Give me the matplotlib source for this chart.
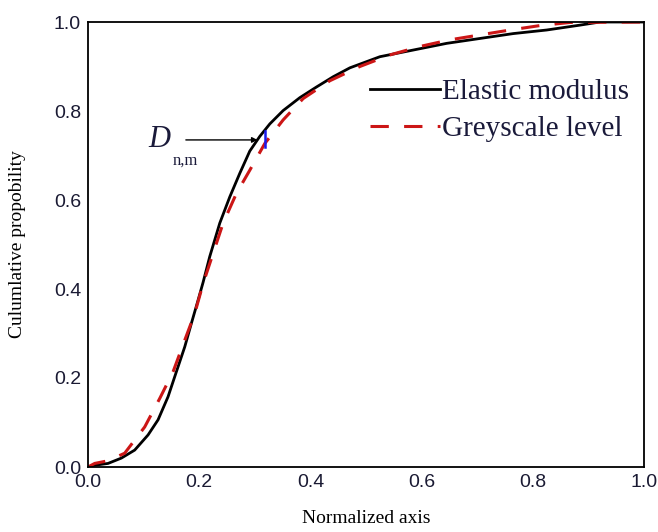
import matplotlib
matplotlib.use('Agg')
import matplotlib.pyplot as plt

x_elastic = [0.0, 0.012, 0.036, 0.06, 0.084, 0.108, 0.126, 0.144, 0.156, 0.174,
             0.186, 0.198, 0.207, 0.219, 0.237, 0.255, 0.273, 0.291, 0.309, 0.327,
             0.351, 0.381, 0.411, 0.441, 0.471, 0.525, 0.585, 0.645, 0.705, 0.765,
             0.825, 0.885, 0.921, 1.0]
y_elastic = [0.0, 0.004, 0.008, 0.02, 0.038, 0.072, 0.106, 0.158, 0.203, 0.27,
             0.323, 0.375, 0.415, 0.473, 0.548, 0.607, 0.66, 0.71, 0.743, 0.771,
             0.801, 0.83, 0.854, 0.877, 0.897, 0.922, 0.937, 0.952, 0.963, 0.974,
             0.982, 0.993, 1.0, 1.0]

x_grey = [0.0, 0.012, 0.036, 0.066, 0.102, 0.129, 0.153, 0.174, 0.192, 0.207,
          0.225, 0.243, 0.267, 0.291, 0.318, 0.351, 0.387, 0.435, 0.489, 0.543,
          0.597, 0.651, 0.705, 0.759, 0.813, 0.867, 1.0]
y_grey = [0.0, 0.008, 0.014, 0.031, 0.09, 0.154, 0.214, 0.285, 0.345, 0.412,
          0.48, 0.548, 0.615, 0.667, 0.727, 0.78, 0.828, 0.868, 0.9, 0.926,
          0.945, 0.96, 0.971, 0.982, 0.992, 0.999, 1.0]

ticks = [0.0, 0.2, 0.4, 0.6, 0.8, 1.0]
tick_labels = ['0.0', '0.2', '0.4', '0.6', '0.8', '1.0']

fig = plt.figure(figsize=(6.58, 5.32), dpi=100)
ax = fig.add_axes([88/658, 65/532, 556/658, 445/532])

ax.plot(x_elastic, y_elastic, color='black', lw=2.0, label='Elastic modulus')
ax.plot(x_grey, y_grey, color='#cc1616', lw=2.2, dashes=(6, 5), label='Greyscale level')

# KS distance marker
ax.plot([0.318, 0.318], [0.718, 0.755], color='#1a1aee', lw=1.8)
ax.annotate('', xy=(0.305, 0.735), xytext=(0.176, 0.735),
            arrowprops=dict(arrowstyle='-|>', color='black', lw=1.0,
                            mutation_scale=8, shrinkA=0, shrinkB=0))
ax.text(0.108, 0.735, 'D', fontsize=22, family='Liberation Serif', style='italic',
        color='#1a1a3a', ha='left', va='center')
ax.text(0.152, 0.688, 'n,m', fontsize=12, family='Liberation Serif',
        color='#1a1a3a', ha='left', va='center')

ax.set_xlim(0, 1)
ax.set_ylim(0, 1)
ax.set_xticks(ticks)
ax.set_xticklabels(tick_labels)
ax.set_yticks(ticks)
ax.set_yticklabels(tick_labels)
ax.tick_params(length=0, pad=5, labelsize=14, labelcolor='#1a1a33')
for lab in ax.get_xticklabels() + ax.get_yticklabels():
    lab.set_family('Liberation Sans')
for sp in ax.spines.values():
    sp.set_linewidth(1.3)

ax.set_xlabel('Normalized axis', fontsize=14, family='Liberation Serif', labelpad=14)
ax.set_ylabel('Culumlative propobility', fontsize=14, family='Liberation Serif', labelpad=20)

leg = ax.legend(loc='upper right', bbox_to_anchor=(1.0, 0.905), frameon=False,
                prop={'family': 'Liberation Serif', 'size': 21},
                handlelength=2.4, handletextpad=0.1, labelspacing=0.35,
                borderaxespad=0.1)
for t in leg.get_texts():
    t.set_color('#1a1a3a')

fig.savefig('out.png', dpi=100)
